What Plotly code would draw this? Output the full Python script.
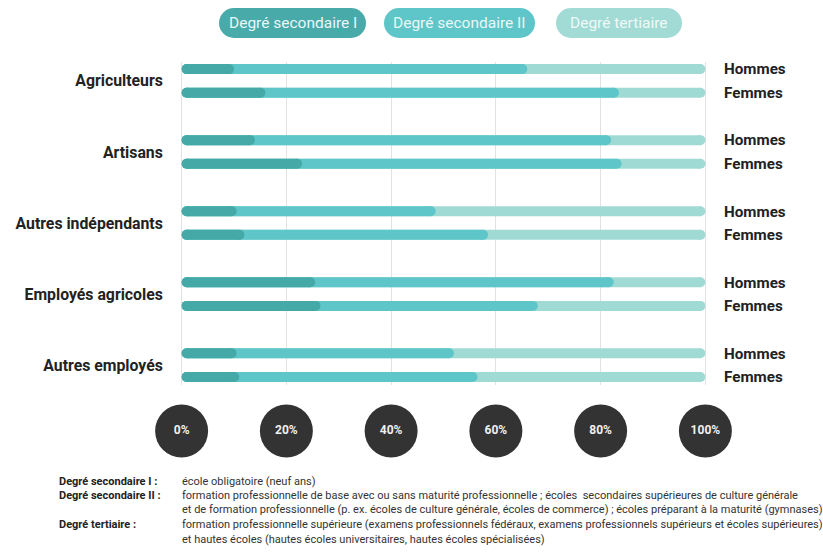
import plotly.graph_objects as go

# ---------------- data ----------------
categories = ["Agriculteurs", "Artisans", "Autres indépendants", "Employés agricoles", "Autres employés"]
sexes = ["Hommes", "Femmes"]
series_names = ["Degré secondaire I", "Degré secondaire II", "Degré tertiaire"]

sec1_hommes = [10, 14, 10.5, 25.5, 10.5]
sec2_hommes = [56, 68, 38, 57, 41.5]
tert_hommes = [34, 18, 51.5, 17.5, 48]

sec1_femmes = [16, 23, 12, 26.5, 11]
sec2_femmes = [67.5, 61, 46.5, 41.5, 45.5]
tert_femmes = [16.5, 16, 41.5, 32, 43.5]

tick_values = [0, 20, 40, 60, 80, 100]
tick_labels = ["0%", "20%", "40%", "60%", "80%", "100%"]

note_labels = ["Degré secondaire I :", "Degré secondaire II :", "Degré tertiaire :"]
note_lines = [
    "école obligatoire (neuf ans)",
    "formation professionnelle de base avec ou sans maturité professionnelle ; écoles  secondaires supérieures de culture générale",
    "et de formation professionnelle (p. ex. écoles de culture générale, écoles de commerce) ; écoles préparant à la maturité (gymnases)",
    "formation professionnelle supérieure (examens professionnels fédéraux, examens professionnels supérieurs et écoles supérieures)",
    "et hautes écoles (hautes écoles universitaires, hautes écoles spécialisées)",
]

# ---------------- styling ----------------
colors = ["#45a9a7", "#5ec6c8", "#a0dad4"]
pill_colors = ["#48aaa9", "#5ec5c8", "#a2dbd5"]
pill_text_colors = ["#eaf7f7", "#eaf7f7", "#eef9f7"]
W, H = 823, 552
ML, MR = 179, 115
PW = W - ML - MR
XR = [-0.5, 100.5]
FONT = "Roboto"
BAR_PX = 10
R_UNITS = (BAR_PX / 2) / (PW / (XR[1] - XR[0]))  # half bar thickness in data units


def px_x(px):
    return (px - ML) / PW


def px_y(py):
    return 1 - py / H


# rows: group g -> Hommes at 3g, Femmes at 3g+1
row_y, row_text = [], []
s1, s2, s3 = [], [], []
for g in range(len(categories)):
    row_y += [3 * g, 3 * g + 1]
    row_text += sexes
    s1 += [sec1_hommes[g], sec1_femmes[g]]
    s2 += [sec2_hommes[g], sec2_femmes[g]]
    s3 += [tert_hommes[g], tert_femmes[g]]

# layered pills: tertiary (full), secondary II (cumulative), secondary I
layers = [
    ([a + b + c for a, b, c in zip(s1, s2, s3)], colors[2], series_names[2]),
    ([a + b for a, b in zip(s1, s2)], colors[1], series_names[1]),
    (list(s1), colors[0], series_names[0]),
]

fig = go.Figure()
for e, col, nm in layers:
    xs, ys = [], []
    for v, yy in zip(e, row_y):
        xs += [R_UNITS, v - R_UNITS, None]
        ys += [yy, yy, None]
    fig.add_trace(go.Scatter(
        x=xs, y=ys, mode="lines+markers", connectgaps=False,
        line=dict(color=col, width=BAR_PX),
        marker=dict(color=col, size=BAR_PX, line=dict(width=0)),
        name=nm, showlegend=False, hoverinfo="skip",
    ))

# invisible trace for right axis
fig.add_trace(go.Scatter(x=[None] * len(row_y), y=row_y, yaxis="y3", mode="markers",
                         showlegend=False, hoverinfo="skip"))

# tick circles
fig.add_trace(go.Scatter(
    x=tick_values, y=[0.5] * len(tick_values), xaxis="x2", yaxis="y2",
    mode="markers+text", text=tick_labels, textposition="middle center",
    marker=dict(size=53, color="#333333"),
    textfont=dict(family=FONT, size=12, color="#f0f0f0", weight="bold"),
    cliponaxis=False, showlegend=False, hoverinfo="skip",
))

y_top, y_bot = 62, 385
yrange = [13.34, -0.3]

fig.update_layout(
    width=W, height=H,
    margin=dict(l=ML, r=MR, t=0, b=0),
    paper_bgcolor="white", plot_bgcolor="white",
    xaxis=dict(range=XR, tickvals=tick_values, showticklabels=False,
               showgrid=True, gridcolor="#e2e2e2", gridwidth=1, zeroline=False,
               showline=False, anchor="y", fixedrange=True),
    yaxis=dict(domain=[px_y(y_bot), px_y(y_top)], range=yrange,
               tickvals=[3 * g + 0.5 for g in range(len(categories))], ticktext=categories,
               ticks="outside", ticklen=12, tickcolor="rgba(0,0,0,0)",
               tickfont=dict(family=FONT, size=15.8, color="#222222", weight="bold"),
               showgrid=False, zeroline=False, showline=False, automargin=False),
    yaxis3=dict(overlaying="y", side="right", range=yrange, tickvals=row_y, ticktext=row_text,
                ticks="outside", ticklen=12, tickcolor="rgba(0,0,0,0)",
                tickfont=dict(family=FONT, size=15.2, color="#222222", weight="bold"),
                showgrid=False, zeroline=False, showline=False, automargin=False),
    xaxis2=dict(range=XR, anchor="y2", visible=False),
    yaxis2=dict(domain=[px_y(431) - 0.05, px_y(431) + 0.05], range=[0, 1], visible=False),
)

# legend pills
pills = [(219, 366), (384, 535), (556, 682)]
pt, pb = 8, 38
r = (pb - pt) / 2
shapes, annotations = [], []
for (x0, x1), c, tc, name in zip(pills, pill_colors, pill_text_colors, series_names):
    shapes.append(dict(type="rect", xref="paper", yref="paper",
                       x0=px_x(x0 + r), x1=px_x(x1 - r), y0=px_y(pb), y1=px_y(pt),
                       fillcolor=c, line=dict(width=0), layer="above"))
    for cx in (x0 + r, x1 - r):
        shapes.append(dict(type="circle", xref="paper", yref="paper",
                           x0=px_x(cx - r), x1=px_x(cx + r), y0=px_y(pb), y1=px_y(pt),
                           fillcolor=c, line=dict(width=0), layer="above"))
    annotations.append(dict(xref="paper", yref="paper", x=px_x((x0 + x1) / 2), y=px_y((pt + pb) / 2),
                            text=name, showarrow=False, xanchor="center", yanchor="middle",
                            font=dict(family=FONT, size=15.5, color=tc)))

# footnotes
line_y = [481, 495, 509, 524, 539]
label_rows = [0, 1, 3]
for lab, ri in zip(note_labels, label_rows):
    annotations.append(dict(xref="paper", yref="paper", x=px_x(57), y=px_y(line_y[ri]),
                            text=lab, showarrow=False, xanchor="left", yanchor="middle",
                            font=dict(family=FONT, size=11, color="#222222", weight="bold")))
for txt, yy in zip(note_lines, line_y):
    annotations.append(dict(xref="paper", yref="paper", x=px_x(180), y=px_y(yy),
                            text=txt, showarrow=False, xanchor="left", yanchor="middle",
                            font=dict(family=FONT, size=11, color="#333333")))

fig.update_layout(shapes=shapes, annotations=annotations)
fig.write_html("out.html", config={"displayModeBar": False},
               post_script="document.body.style.margin='0';")
